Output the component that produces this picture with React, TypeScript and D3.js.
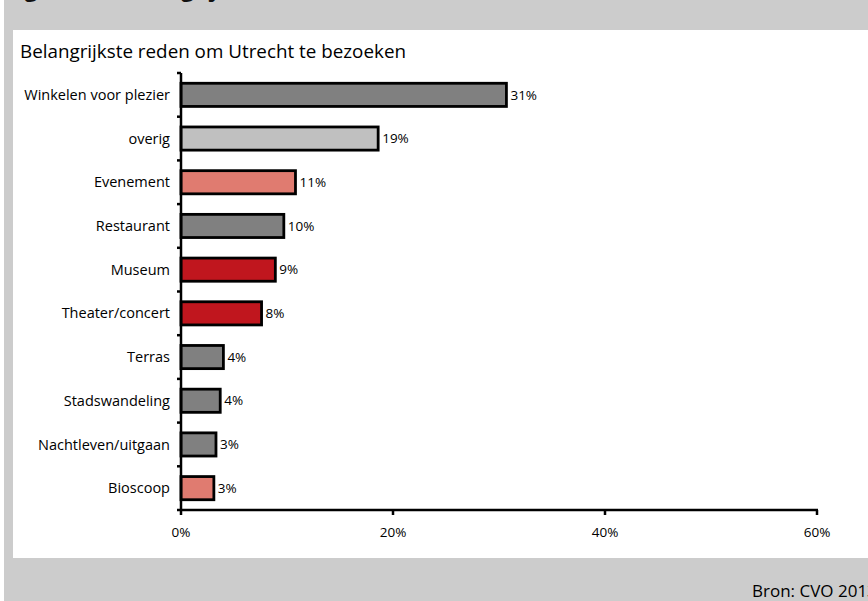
import React from "react";
import * as d3 from "d3";

const categories = [
  "Winkelen voor plezier",
  "overig",
  "Evenement",
  "Restaurant",
  "Museum",
  "Theater/concert",
  "Terras",
  "Stadswandeling",
  "Nachtleven/uitgaan",
  "Bioscoop",
];
const values = [30.7, 18.6, 10.8, 9.7, 8.9, 7.6, 4.0, 3.7, 3.3, 3.1];
const valueLabels = ["31%", "19%", "11%", "10%", "9%", "8%", "4%", "4%", "3%", "3%"];
const barColors = ["#808080", "#c0c0c0", "#e07b70", "#808080", "#c0161e", "#c0161e", "#808080", "#808080", "#808080", "#e07b70"];
const xTicks = [0, 20, 40, 60];
const chartTitle = "Belangrijkste reden om Utrecht te bezoeken";
const sourceText = "Bron: CVO 2013";
const headingText = "Figuur 3.9 Belangrijkste reden van bezoek";

const W = 868;
const H = 601;
const FONT = "'Open Sans', 'Noto Sans', sans-serif";

export default function App() {
  const x = d3.scaleLinear().domain([0, 60]).range([181, 817]);
  const y = d3.scaleBand<string>().domain(categories).range([73, 510]).paddingInner(0.47).paddingOuter(0.235);
  const band = d3.scaleBand<string>().domain(categories).range([73, 510]);
  const tickYs = categories.map((c) => band(c)!).concat([510]);

  return (
    <svg width={W} height={H} style={{ position: "absolute", left: 0, top: 0, fontFamily: FONT }}>
      <rect x={0} y={0} width={W} height={H} fill="#ffffff" />
      <rect x={4} y={0} width={W - 4} height={H} fill="#cccccc" />
      <text x={6} y={-3} fontSize={22} fontWeight="bold" fill="#111">{headingText}</text>
      <rect x={13} y={30} width={W - 13} height={528} fill="#ffffff" />
      <text x={20} y={58} fontSize={18.5} fill="#000" textLength={386} lengthAdjust="spacingAndGlyphs">{chartTitle}</text>

      {categories.map((c, i) => (
        <g key={c}>
          <rect
            x={x(0)}
            y={y(c)!}
            width={x(values[i]) - x(0)}
            height={y.bandwidth()}
            fill={barColors[i]}
            stroke="#000"
            strokeWidth={2.8}
          />
          <text x={x(values[i]) + 4} y={y(c)! + y.bandwidth() / 2} dy="0.35em" fontSize={13.5} fill="#000">
            {valueLabels[i]}
          </text>
          <text x={170} y={band(c)! + band.bandwidth() / 2} dy="0.35em" fontSize={14.5} textAnchor="end" fill="#000">
            {c}
          </text>
        </g>
      ))}

      {/* y axis */}
      <line x1={x(0)} x2={x(0)} y1={73} y2={511} stroke="#000" strokeWidth={2.5} />
      {tickYs.map((t, i) => (
        <line key={i} x1={x(0) - 4} x2={x(0)} y1={t} y2={t} stroke="#000" strokeWidth={2.5} />
      ))}
      {/* x axis */}
      <line x1={x(0)} x2={x(60) + 1} y1={510} y2={510} stroke="#000" strokeWidth={2.5} />
      {xTicks.map((t) => (
        <g key={t}>
          <line x1={x(t)} x2={x(t)} y1={510} y2={515} stroke="#000" strokeWidth={2.5} />
          <text x={x(t)} y={532} dy="0.35em" fontSize={13.5} textAnchor="middle" fill="#000">{t}%</text>
        </g>
      ))}

      <text x={752} y={597} fontSize={17} fill="#000">{sourceText}</text>
    </svg>
  );
}
